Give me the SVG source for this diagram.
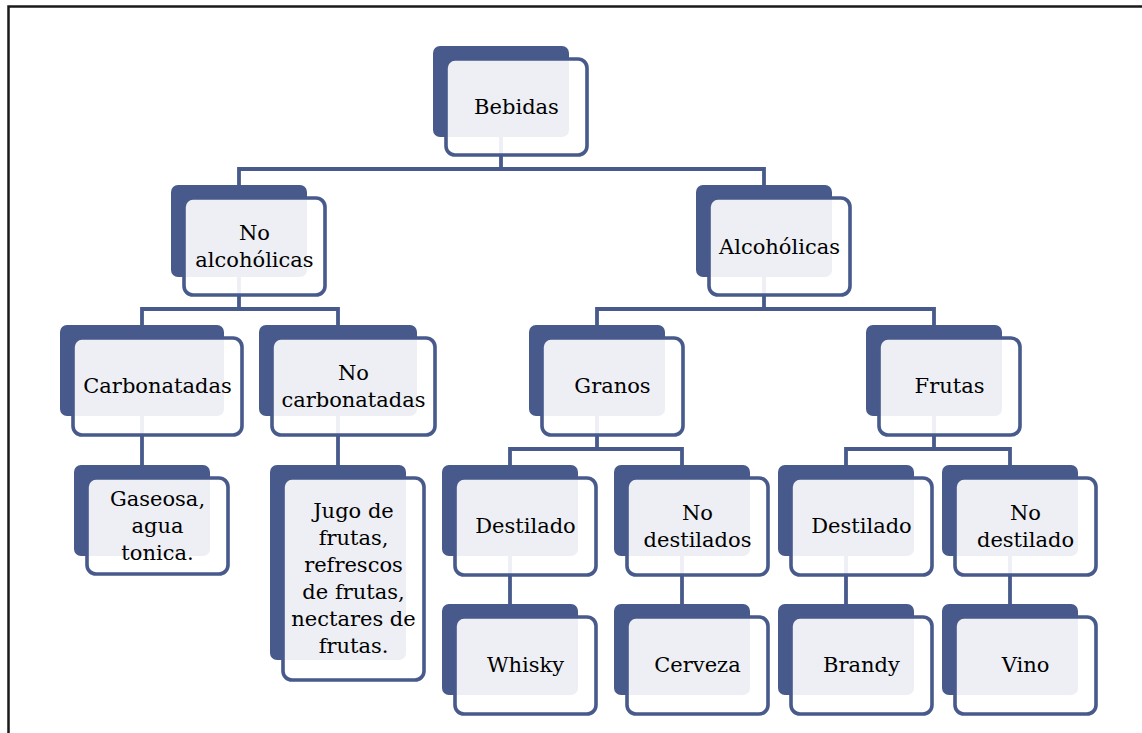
<svg xmlns="http://www.w3.org/2000/svg" width="1142" height="733" viewBox="0 0 1142 733">
<style>
.bk{fill:#475A8B}
.fr{fill:#ffffff;fill-opacity:0.9;stroke:#475A8B;stroke-width:3.6}
.cn{fill:none;stroke:#475A8B;stroke-width:3.8}
text{font-family:"DejaVu Serif","Liberation Serif",serif;font-size:21px;fill:#000000;text-anchor:middle}
</style>
<rect x="0" y="0" width="1142" height="733" fill="#ffffff"/>
<path d="M8.5 733 V6.5 H1142" fill="none" stroke="#1a1a1a" stroke-width="2.5"/>
<g id="connectors">
<path class="cn" d="M501 137 V169 M239 186 V169 H764 V186"/>
<path class="cn" d="M239 277 V309 M142 326 V309 H338 V326"/>
<path class="cn" d="M764 277 V309 M597 326 V309 H934 V326"/>
<path class="cn" d="M142 416 V466 M338 416 V466"/>
<path class="cn" d="M597 416 V449 M510 466 V449 H682 V466"/>
<path class="cn" d="M934 416 V449 M846 466 V449 H1010 V466"/>
<path class="cn" d="M510 556 V605 M682 556 V605 M846 556 V605 M1010 556 V605"/>
</g>
<g id="bebidas">
<rect class="bk" x="433" y="46" width="136" height="91" rx="7"/>
<rect class="fr" x="446" y="59" width="141" height="96" rx="9"/>
<text x="516.5" y="114">Bebidas</text>
</g>
<g id="no-alcoholicas">
<rect class="bk" x="171" y="185" width="136" height="92" rx="7"/>
<rect class="fr" x="184" y="198" width="141" height="97" rx="9"/>
<text x="254.5" y="240">No</text>
<text x="254.5" y="267">alcohólicas</text>
</g>
<g id="alcoholicas">
<rect class="bk" x="696" y="185" width="136" height="92" rx="7"/>
<rect class="fr" x="709" y="198" width="141" height="97" rx="9"/>
<text x="779.5" y="254">Alcohólicas</text>
</g>
<g id="carbonatadas">
<rect class="bk" x="60" y="325" width="164" height="91" rx="7"/>
<rect class="fr" x="73" y="338" width="169" height="97" rx="9"/>
<text x="157.5" y="393">Carbonatadas</text>
</g>
<g id="no-carbonatadas">
<rect class="bk" x="259" y="325" width="158" height="91" rx="7"/>
<rect class="fr" x="272" y="338" width="163" height="97" rx="9"/>
<text x="353.5" y="380">No</text>
<text x="353.5" y="407">carbonatadas</text>
</g>
<g id="granos">
<rect class="bk" x="529" y="325" width="136" height="91" rx="7"/>
<rect class="fr" x="542" y="338" width="141" height="97" rx="9"/>
<text x="612.5" y="393">Granos</text>
</g>
<g id="frutas">
<rect class="bk" x="866" y="325" width="136" height="91" rx="7"/>
<rect class="fr" x="879" y="338" width="141" height="97" rx="9"/>
<text x="949.5" y="393">Frutas</text>
</g>
<g id="gaseosa">
<rect class="bk" x="74" y="465" width="136" height="91" rx="7"/>
<rect class="fr" x="87" y="478" width="141" height="96" rx="9"/>
<text x="157.5" y="506">Gaseosa,</text>
<text x="157.5" y="533">agua</text>
<text x="157.5" y="560">tonica.</text>
</g>
<g id="jugo">
<rect class="bk" x="270" y="465" width="136" height="195" rx="7"/>
<rect class="fr" x="283" y="478" width="141" height="202" rx="9"/>
<text x="353.5" y="518">Jugo de</text>
<text x="353.5" y="545">frutas,</text>
<text x="353.5" y="572">refrescos</text>
<text x="353.5" y="599">de frutas,</text>
<text x="353.5" y="626">nectares de</text>
<text x="353.5" y="653">frutas.</text>
</g>
<g id="destilado-granos">
<rect class="bk" x="442" y="465" width="136" height="91" rx="7"/>
<rect class="fr" x="455" y="478" width="141" height="97" rx="9"/>
<text x="525.5" y="533">Destilado</text>
</g>
<g id="no-destilados">
<rect class="bk" x="614" y="465" width="136" height="91" rx="7"/>
<rect class="fr" x="627" y="478" width="141" height="97" rx="9"/>
<text x="697.5" y="520">No</text>
<text x="697.5" y="547">destilados</text>
</g>
<g id="destilado-frutas">
<rect class="bk" x="778" y="465" width="136" height="91" rx="7"/>
<rect class="fr" x="791" y="478" width="141" height="97" rx="9"/>
<text x="861.5" y="533">Destilado</text>
</g>
<g id="no-destilado">
<rect class="bk" x="942" y="465" width="136" height="91" rx="7"/>
<rect class="fr" x="955" y="478" width="141" height="97" rx="9"/>
<text x="1025.5" y="520">No</text>
<text x="1025.5" y="547">destilado</text>
</g>
<g id="whisky">
<rect class="bk" x="442" y="604" width="136" height="91" rx="7"/>
<rect class="fr" x="455" y="617" width="141" height="97" rx="9"/>
<text x="525.5" y="672">Whisky</text>
</g>
<g id="cerveza">
<rect class="bk" x="614" y="604" width="136" height="91" rx="7"/>
<rect class="fr" x="627" y="617" width="141" height="97" rx="9"/>
<text x="697.5" y="672">Cerveza</text>
</g>
<g id="brandy">
<rect class="bk" x="778" y="604" width="136" height="91" rx="7"/>
<rect class="fr" x="791" y="617" width="141" height="97" rx="9"/>
<text x="861.5" y="672">Brandy</text>
</g>
<g id="vino">
<rect class="bk" x="942" y="604" width="136" height="91" rx="7"/>
<rect class="fr" x="955" y="617" width="141" height="97" rx="9"/>
<text x="1025.5" y="672">Vino</text>
</g>
</svg>
